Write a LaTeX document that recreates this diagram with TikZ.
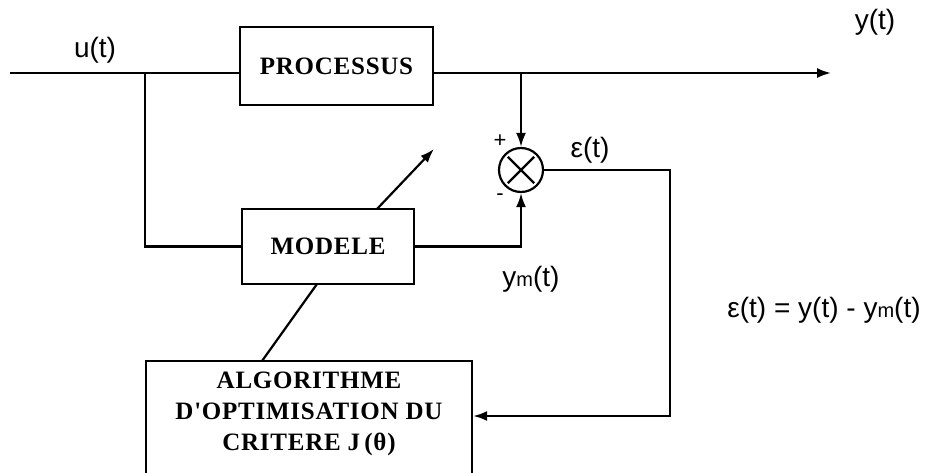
\documentclass[tikz,border=0pt]{standalone}
\usepackage{fontspec}
\setmainfont{Liberation Serif}
\newfontfamily\labfont{Liberation Sans}
\newfontfamily\boxfont{Liberation Serif}[LetterSpace=3]
\usetikzlibrary{arrows.meta}
\tikzset{
  wire/.style={line width=2.2pt, line cap=butt},
  arr/.style={wire, -{Latex[length=14pt,width=10pt]}},
  blockbox/.style={draw, line width=2.2pt, rectangle, inner sep=0pt,
    font=\boxfont\bfseries\fontsize{25}{31}\selectfont, align=center},
  lab/.style={font=\labfont\fontsize{28}{30}\selectfont, inner sep=0pt},
  sumnode/.style={draw, circle, line width=2.2pt, minimum size=44pt, inner sep=0pt}
}
\newcommand{\msub}{{\fontsize{20}{20}\selectfont m}}
\begin{document}
\begin{tikzpicture}[x=1pt,y=-1pt]
\clip (0,0) rectangle (931,473);
\fill[white] (0,0) rectangle (931,473);

% blocks
\node[blockbox, minimum width=193pt, minimum height=78pt] (proc) at (336.5,66) {PROCESSUS};
\node[blockbox, minimum width=172pt, minimum height=75pt] (model) at (328,246.5) {MODELE};
\node[blockbox, minimum width=326pt, minimum height=140pt] (algo) at (309,431) {};
\node[font=\boxfont\bfseries\fontsize{25}{31}\selectfont, align=center, inner sep=0pt] (algotxt) at (309,414)
  {ALGORITHME\\D'OPTIMISATION DU\\CRITERE J\,(θ)};
\node[sumnode] (sum) at (521,170) {};
\draw[line width=2.2pt, shorten >=4.5pt, shorten <=4.5pt] (sum.north west) -- (sum.south east);
\draw[line width=2.2pt, shorten >=4.5pt, shorten <=4.5pt] (sum.north east) -- (sum.south west);

% coordinates
\coordinate (in) at (10,73);
\coordinate (br) at (145,73);
\coordinate (tap) at (521,73);
\coordinate (out) at (831,73);
\coordinate (ec) at (670,416);
\coordinate (d1) at (262,361);
\coordinate (d2) at (317,284);
\coordinate (p1) at (377,209);
\coordinate (p2) at (434,149);

% connectors
\draw[wire] (in) -- (in -| proc.west);
\draw[arr] (in -| proc.east) -- (out);
\draw[wire] (br) |- (model.west);
\draw[arr] (tap) -- (sum.north);
\draw[arr] (model.east) -| (sum.south);
\draw[arr] (sum.east) -| (ec) -- (ec -| algo.east);
\draw[wire] (d1) -- (d2);
\draw[arr] (p1) -- (p2);

% labels
\node[lab] (lu) at (95,50) {u(t)};
\node[lab] (ly) at (875,22) {y(t)};
\node[lab, font=\labfont\fontsize{22}{22}\selectfont] (lplus) at (500,141) {+};
\node[lab, font=\labfont\fontsize{22}{22}\selectfont] (lminus) at (500,197) {-};
\node[lab] (leps) at (590,150) {ε(t)};
\node[lab] (lym) at (531,279) {y\msub(t)};
\node[lab] (lform) at (824,310) {ε(t) = y(t) - y\msub(t)};
\end{tikzpicture}
\end{document}
